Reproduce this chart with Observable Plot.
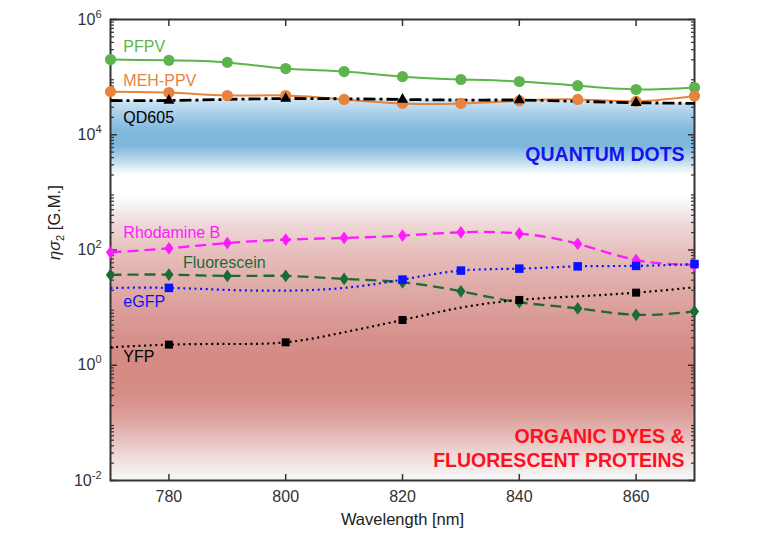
<!DOCTYPE html>
<html><head><meta charset="utf-8">
<script src="https://cdn.jsdelivr.net/npm/d3@7"></script>
<script src="https://cdn.jsdelivr.net/npm/@observablehq/plot@0.6"></script>
<style>body{margin:0;background:#fff} svg{display:block}</style>
</head><body><div id="chart"></div>
<script>
// ---- data ----
const wavelengths = [770, 780, 790, 800, 810, 820, 830, 840, 850, 860, 870];
const pfpv        = [2.02e5, 1.96e5, 1.8e5, 1.41e5, 1.25e5, 1.02e5, 9.1e4, 8.4e4, 7.1e4, 6.1e4, 6.6e4];
const mehPpv      = [5.6e4, 5.4e4, 4.8e4, 4.8e4, 4.1e4, 3.5e4, 3.5e4, 3.9e4, 4.1e4, 3.8e4, 4.7e4];
const qd605       = [3.93e4, 3.93e4, 4.1e4, 4.25e4, 4.2e4, 4.1e4, 4.0e4, 4.0e4, 3.8e4, 3.6e4, 3.5e4];
const rhodamineB  = [91, 107, 132, 151, 162, 178, 203, 193, 128, 67, 55];
const fluorescein = [37, 37.4, 35.5, 35.5, 31.5, 27.5, 19.2, 12.4, 9.7, 7.5, 8.6];
const eGFP        = [22, 22, 20.3, 19.7, 22, 30.6, 43.9, 47.5, 52, 53, 57];
const yfp         = [2.05, 2.28, 2.34, 2.5, 3.73, 6.1, 10, 13.6, 15.7, 18.2, 22.5];

const qdMarkers   = [780, 800, 820, 840, 860];
const egfpMarkers = [780, 820, 830, 840, 850, 860, 870];
const yfpMarkers  = [780, 800, 820, 840, 860];

const labelNames = ["PFPV", "MEH-PPV", "QD605", "Rhodamine B", "Fluorescein", "eGFP", "YFP"];
const labelX     = [772.2, 772.2, 772.2, 772.2, 782.4, 772.2, 772.2];
const labelY     = [3.3e5, 8.5e4, 1.96e4, 198, 59.7, 12.7, 1.37];

const xDomain = [770, 870];
const yDomain = [1e-2, 1e6];
const xTicks = [780, 800, 820, 840, 860];
const yTicks = [1e-2, 1e0, 1e2, 1e4, 1e6];
const yMinorTicks = [];
for (let e = -2; e < 6; e++) for (let k = 2; k <= 9; k++) yMinorTicks.push(k * Math.pow(10, e));

const blueBandBottom = 1.9e3;
const redBandTop = 900;

const regionTexts = ["QUANTUM DOTS", "ORGANIC DYES &", "FLUORESCENT PROTEINS"];
const regionY = [4.5e3, 0.0575, 0.0221];

// ---- table ----
const rows = wavelengths.map((wl, i) => ({
  wl, pfpv: pfpv[i], meh: mehPpv[i], qd: qd605[i], rhod: rhodamineB[i],
  fluo: fluorescein[i], egfp: eGFP[i], yfp: yfp[i]
}));

const diamond = {
  draw(ctx, size) {
    const a = Math.sqrt(size / 1.44), b = 0.72 * a;
    ctx.moveTo(0, -a); ctx.lineTo(b, 0); ctx.lineTo(0, a); ctx.lineTo(-b, 0); ctx.closePath();
  }
};

const series = [
  {key: "rhod", color: "#ff1aff", width: 2.3, dash: "11,6",     symbol: diamond,    r: 4.3, markers: wavelengths},
  {key: "fluo", color: "#1b6b36", width: 2.3, dash: "11,6",     symbol: diamond,    r: 4.3, markers: wavelengths},
  {key: "yfp",  color: "#000000", width: 2.2, dash: "2,3.6",    symbol: "square",   r: 4.5, markers: yfpMarkers},
  {key: "egfp", color: "#0a12ff", width: 2.2, dash: "2,3.6",    symbol: "square",   r: 4.8, markers: egfpMarkers},
  {key: "pfpv", color: "#5db34c", width: 2.0, dash: null,       symbol: "circle",   r: 5.6, markers: wavelengths},
  {key: "meh",  color: "#e8833d", width: 2.0, dash: null,       symbol: "circle",   r: 5.6, markers: wavelengths},
  {key: "qd",   color: "#000000", width: 2.8, dash: "12,4,3,4", symbol: "triangle", r: 4.1, markers: qdMarkers}
];
const labelColors = ["#5db34c", "#e8833d", "#000000", "#ff1aff", "#1b6b36", "#0a12ff", "#000000"];

function gradients() {
  return () => {
    const defs = d3.create("svg:defs");
    const add = (id, stops) => {
      const g = defs.append("linearGradient").attr("id", id)
        .attr("x1", 0).attr("y1", 0).attr("x2", 0).attr("y2", 1);
      stops.forEach(([o, c]) => g.append("stop").attr("offset", o).attr("stop-color", c));
    };
    add("gBlue", [[0, "#d6e9f6"], [0.18, "#acd1ea"], [0.42, "#80b8dc"], [0.62, "#7fb7dc"],
                  [0.8, "#bad8ed"], [0.92, "#e9f3fa"], [1, "#ffffff"]]);
    add("gRed", [[0, "#ffffff"], [0.04, "#f5f2f2"], [0.1, "#eedad9"], [0.2, "#e6bfbd"],
                 [0.32, "#e0aca8"], [0.45, "#d99793"], [0.57, "#d58a84"], [0.68, "#d68b85"],
                 [0.77, "#db9d98"], [0.85, "#e6bdba"], [0.92, "#efdcdb"], [1, "#f5f8f8"]]);
    return defs.node();
  };
}

const marks = [
  gradients(),
  Plot.rect([0], {x1: xDomain[0], x2: xDomain[1], y1: yDomain[0], y2: redBandTop, fill: "url(#gRed)"}),
  Plot.areaY(rows, {x: "wl", y1: blueBandBottom, y2: "qd", curve: "natural", fill: "url(#gBlue)"}),
  Plot.frame({stroke: "#333", strokeWidth: 2}),
  // ticks (inward)
  Plot.axisX(xTicks, {anchor: "bottom", tickSize: -6, fill: "none", stroke: "#333", strokeWidth: 1.5}),
  Plot.axisX(xTicks, {anchor: "top", tickSize: -6, fill: "none", stroke: "#333", strokeWidth: 1.5}),
  Plot.axisY(yTicks, {anchor: "left", tickSize: -7, fill: "none", stroke: "#333", strokeWidth: 1.5}),
  Plot.axisY(yTicks, {anchor: "right", tickSize: -7, fill: "none", stroke: "#333", strokeWidth: 1.5}),
  Plot.axisY(yMinorTicks, {anchor: "left", tickSize: -4, fill: "none", stroke: "#333", strokeWidth: 1.2}),
  Plot.axisY(yMinorTicks, {anchor: "right", tickSize: -4, fill: "none", stroke: "#333", strokeWidth: 1.2}),
  // tick labels
  Plot.axisX(xTicks, {anchor: "bottom", tickSize: 0, tickPadding: 10, fontSize: 16, fill: "#333", label: null}),
  Plot.axisY(yTicks, {anchor: "left", tickSize: 0, tickPadding: 9, fontSize: 16, fill: "#333", label: null,
    tickFormat: d => "10^" + Math.round(Math.log10(d))}),
  Plot.text(["Wavelength [nm]"], {frameAnchor: "bottom", dy: 44, fontSize: 16.5, fill: "#222", text: d => d}),
  Plot.text(["__ylabel__"], {frameAnchor: "left", dx: -56, dy: 10, rotate: -90, fontSize: 16.5, fill: "#222",
    text: d => d})
];

for (const s of series) {
  marks.push(Plot.line(rows, {x: "wl", y: s.key, stroke: s.color, strokeWidth: s.width,
    strokeDasharray: s.dash, strokeLinecap: "butt", curve: "natural"}));
}
for (const s of series) {
  marks.push(Plot.dot(rows.filter(r => s.markers.includes(r.wl)),
    {x: "wl", y: s.key, symbol: s.symbol, r: s.r, fill: s.color, stroke: "none"}));
}
labelNames.forEach((name, i) => {
  marks.push(Plot.text([name], {x: labelX[i], y: labelY[i], text: d => d, textAnchor: "start",
    fontSize: 16, fill: labelColors[i]}));
});
marks.push(Plot.text([regionTexts[0]], {x: 868.3, y: regionY[0], text: d => d, textAnchor: "end",
  fontSize: 19.5, fontWeight: "bold", fill: "#1414f0"}));
marks.push(Plot.text([regionTexts[1]], {x: 868.3, y: regionY[1], text: d => d, textAnchor: "end",
  fontSize: 19.5, fontWeight: "bold", fill: "#ff1020"}));
marks.push(Plot.text([regionTexts[2]], {x: 868.3, y: regionY[2], text: d => d, textAnchor: "end",
  fontSize: 19.5, fontWeight: "bold", fill: "#ff1020"}));

const svg = Plot.plot({
  width: 764, height: 552,
  marginLeft: 110, marginRight: 70, marginTop: 19, marginBottom: 72,
  x: {domain: xDomain},
  y: {type: "log", domain: yDomain},
  style: {fontFamily: "'Liberation Sans', Arial, sans-serif", fontSize: "16px", color: "#333", background: "transparent"},
  marks
});

// superscript exponents for y tick labels
d3.select(svg).selectAll('g[aria-label="y-axis tick label"] text').each(function() {
  const t = d3.select(this).text();
  const exp = t.split("^")[1];
  const el = d3.select(this).text("");
  el.append("tspan").text("10");
  el.append("tspan").attr("dy", "-7").attr("font-size", "11px").text(exp);
});
// y axis title with italic greek and subscript
d3.select(svg).selectAll("text").filter(function() { return this.textContent === "__ylabel__"; }).each(function() {
  const el = d3.select(this).text("");
  el.append("tspan").attr("font-style", "italic").text("ησ");
  el.append("tspan").attr("dy", "4").attr("font-size", "11px").text("2");
  el.append("tspan").attr("dy", "-4").text(" [G.M.]");
});

document.getElementById("chart").appendChild(svg);
</script>
</body></html>
